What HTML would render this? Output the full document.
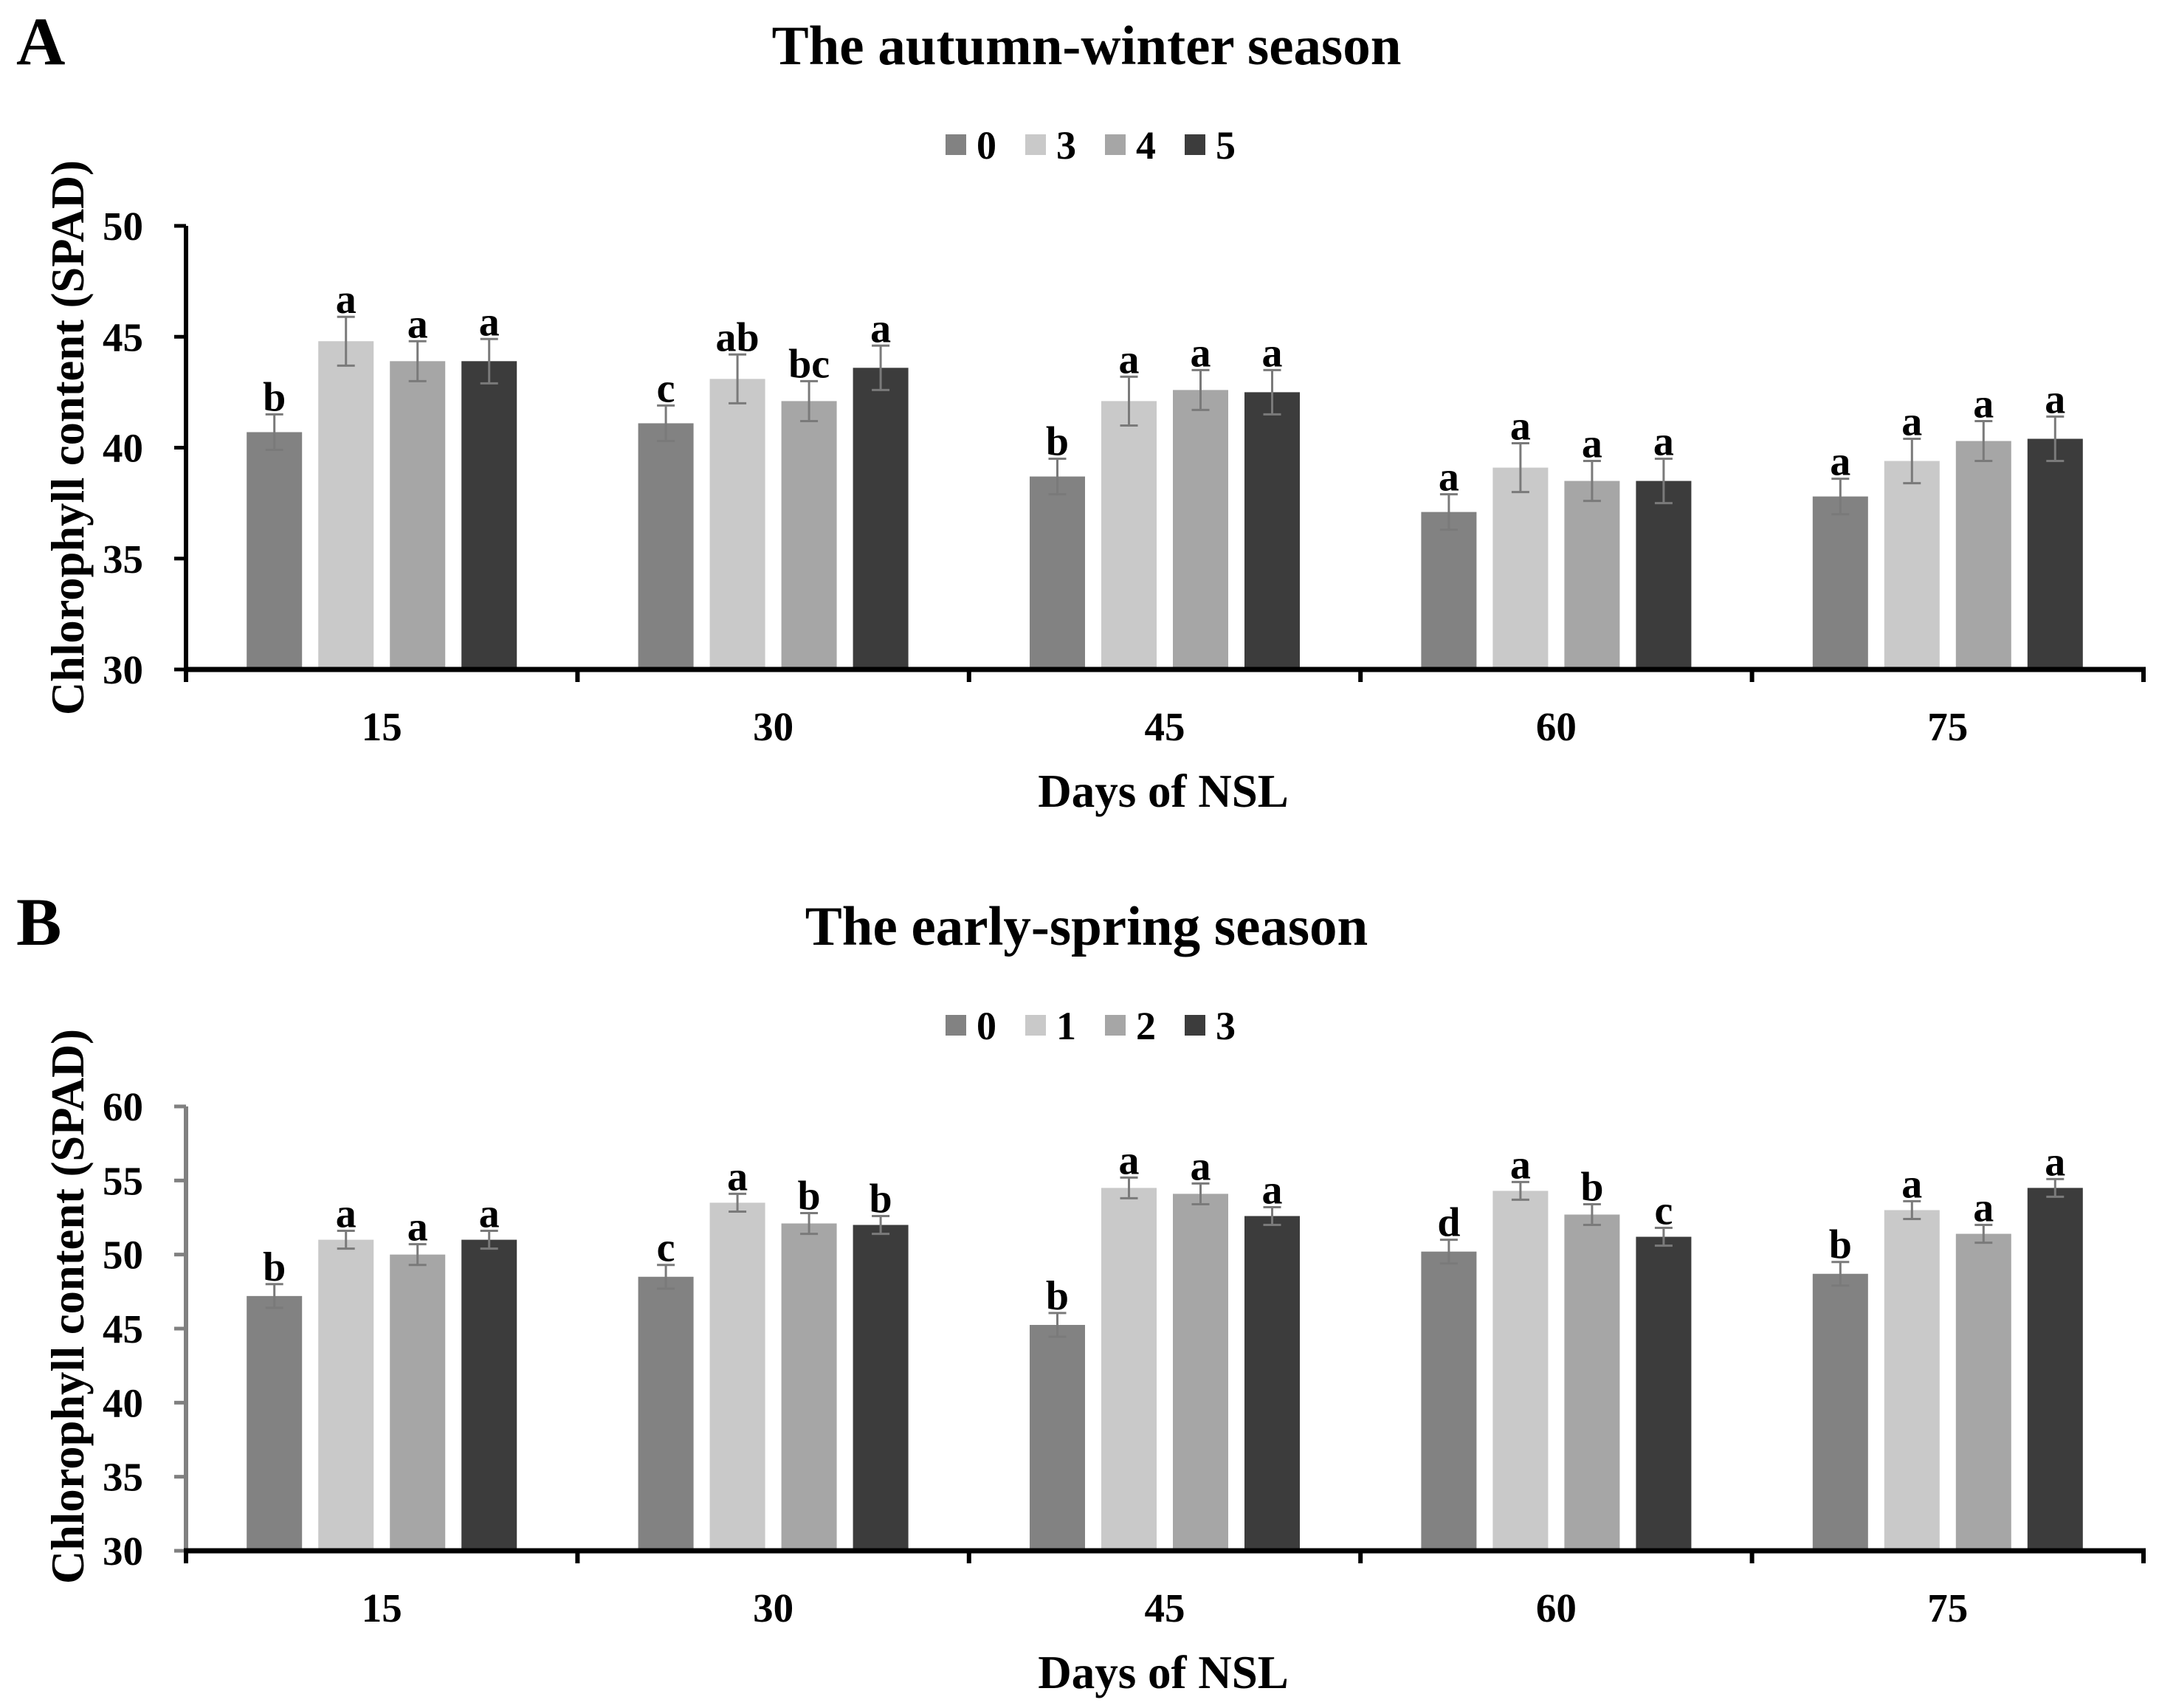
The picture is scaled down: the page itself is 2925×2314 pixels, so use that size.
<!DOCTYPE html>
<html><head><meta charset="utf-8">
<style>
html,body{margin:0;padding:0;background:#fff;}
svg{display:block;}
text{font-family:"Liberation Serif",serif;font-weight:bold;fill:#000;}
</style></head>
<body>
<svg id="fig" width="2925" height="2314" viewBox="0 0 2925 2314" xmlns="http://www.w3.org/2000/svg"></svg>
<script>
const categories = ["15","30","45","60","75"];
const colors = ["#828282","#c9c9c9","#a6a6a6","#3c3c3c"];
// Panel A
const legendA = ["0","3","4","5"];
const ticksA = [30,35,40,45,50];
const valuesA0 = [40.7,41.1,38.7,37.1,37.8];
const valuesA3 = [44.8,43.1,42.1,39.1,39.4];
const valuesA4 = [43.9,42.1,42.6,38.5,40.3];
const valuesA5 = [43.9,43.6,42.5,38.5,40.4];
const errA0 = [0.8,0.8,0.8,0.8,0.8];
const errA3 = [1.1,1.1,1.1,1.1,1.0];
const errA4 = [0.9,0.9,0.9,0.9,0.9];
const errA5 = [1.0,1.0,1.0,1.0,1.0];
const lettersA0 = ["b","c","b","a","a"];
const lettersA3 = ["a","ab","a","a","a"];
const lettersA4 = ["a","bc","a","a","a"];
const lettersA5 = ["a","a","a","a","a"];
// Panel B
const legendB = ["0","1","2","3"];
const ticksB = [30,35,40,45,50,55,60];
const valuesB0 = [47.2,48.5,45.25,50.2,48.7];
const valuesB1 = [51.0,53.5,54.5,54.3,53.0];
const valuesB2 = [50.0,52.1,54.1,52.7,51.4];
const valuesB3 = [51.0,52.0,52.6,51.2,54.5];
const errB0 = [0.8,0.8,0.8,0.8,0.8];
const errB1 = [0.6,0.6,0.7,0.6,0.6];
const errB2 = [0.7,0.7,0.7,0.7,0.6];
const errB3 = [0.6,0.6,0.6,0.6,0.6];
const lettersB0 = ["b","c","b","d","b"];
const lettersB1 = ["a","a","a","a","a"];
const lettersB2 = ["a","b","a","b","a"];
const lettersB3 = ["a","b","a","c","a"];

const NS="http://www.w3.org/2000/svg";
const svg=document.getElementById('fig');
function el(tag,attrs,parent,txt){const e=document.createElementNS(NS,tag);for(const k in attrs)e.setAttribute(k,attrs[k]);if(txt!==undefined)e.textContent=txt;(parent||svg).appendChild(e);return e;}

function panel(opt){
  const g=el('g',{});
  
  
  const x0=252,x1=2904,yTop=opt.yTop,yBot=opt.yBot,vmin=opt.ticks[0],vmax=opt.ticks[opt.ticks.length-1];
  const ys=v=>yBot-(v-vmin)/(vmax-vmin)*(yBot-yTop);
  const cw=(x1-x0)/categories.length;
  const xc=i=>x0+cw*(i+0.5);
  let t=el('text',{x:22,y:yTop-219,'font-size':92},g,opt.letter);
  
  
  t=el('text',{x:1472,y:yTop-219,'font-size':75,'text-anchor':'middle'},g,opt.title);
  
  
  const lx=[1281,1389,1497,1605];
  opt.legend.forEach((lab,i)=>{
    const lg=el('g',{},g);
    
    
    el('rect',{x:lx[i],y:yTop-124,width:28,height:28,fill:colors[i]},lg);
    el('text',{x:lx[i]+42,y:yTop-91,'font-size':54},lg,lab);
  });
  opt.series.forEach((vals,s)=>{
    vals.forEach((v,i)=>{
      const cx=xc(i)+(s-1.5)*97;
      const b=el('rect',{x:cx-37.5,y:ys(v),width:75,height:yBot-ys(v),fill:colors[s]},g);
      
      
      const e=opt.errs[s][i];
      const eg=el('g',{stroke:'#7a7a7a','stroke-width':3},g);
      
      
      el('line',{x1:cx,x2:cx,y1:ys(v+e),y2:ys(v-e)},eg);
      el('line',{x1:cx-12,x2:cx+12,y1:ys(v+e),y2:ys(v+e)},eg);
      el('line',{x1:cx-12,x2:cx+12,y1:ys(v-e),y2:ys(v-e)},eg);
      const lt=el('text',{x:cx,y:ys(v+e)-5,'font-size':56,'text-anchor':'middle'},g,opt.letters[s][i]);
      
      
    });
  });
  const yax=el('line',{x1:x0,x2:x0,y1:yTop,y2:yBot+3,stroke:opt.yColor,'stroke-width':6},g);
  
  
  opt.ticks.forEach(v=>{
    el('line',{x1:x0-16,x2:x0,y1:ys(v),y2:ys(v),stroke:opt.yColor,'stroke-width':5},g);
    const tl=el('text',{x:194,y:ys(v)+19,'font-size':55,'text-anchor':'end'},g,String(v));
    
    
  });
  const xax=el('line',{x1:x0-3,x2:x1+3,y1:yBot,y2:yBot,stroke:'#000','stroke-width':7},g);
  
  
  for(let i=0;i<=categories.length;i++){
    el('line',{x1:x0+cw*i,x2:x0+cw*i,y1:yBot,y2:yBot+17,stroke:'#000','stroke-width':6},g);
  }
  categories.forEach((c,i)=>{
    const xl=el('text',{x:xc(i),y:yBot+96,'font-size':55,'text-anchor':'middle'},g,c);
    
    
  });
  t=el('text',{x:1576,y:yBot+186,'font-size':63,'text-anchor':'middle'},g,'Days of NSL');
  
  
  const cy=opt.titleY;
  t=el('text',{x:0,y:0,'font-size':64,'text-anchor':'middle',transform:'translate(113,'+cy+') rotate(-90)',textLength:752,lengthAdjust:'spacingAndGlyphs'},g,'Chlorophyll content (SPAD)');
  
  
}

panel({name:'panel-a',letter:'A',title:'The autumn-winter season',legend:legendA,ticks:ticksA,yTop:306,yBot:907,yColor:'#000',
  series:[valuesA0,valuesA3,valuesA4,valuesA5],errs:[errA0,errA3,errA4,errA5],letters:[lettersA0,lettersA3,lettersA4,lettersA5],titleY:593});
panel({name:'panel-b',letter:'B',title:'The early-spring season',legend:legendB,ticks:ticksB,yTop:1499,yBot:2101,yColor:'#808080',
  series:[valuesB0,valuesB1,valuesB2,valuesB3],errs:[errB0,errB1,errB2,errB3],letters:[lettersB0,lettersB1,lettersB2,lettersB3],titleY:1770});
</script>
</body></html>
